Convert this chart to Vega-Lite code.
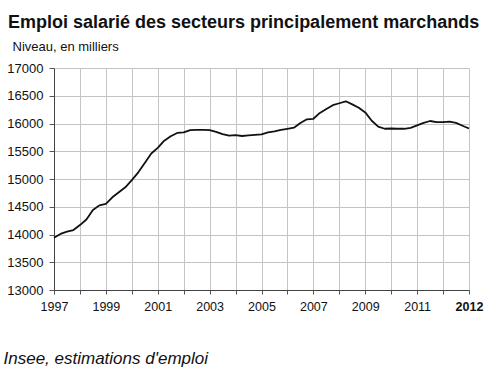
{
  "$schema": "https://vega.github.io/schema/vega-lite/v6.json",
  "autosize": "none",
  "width": 415,
  "height": 222,
  "padding": {"left": 54, "top": 68, "right": 31, "bottom": 88},
  "background": "white",
  "config": {
    "font": "Liberation Sans",
    "view": {"stroke": null}
  },
  "title": {
    "text": "Emploi salarié des secteurs principalement marchands",
    "anchor": "start",
    "frame": "group",
    "dx": -46,
    "offset": 8,
    "fontSize": 18,
    "fontWeight": "bold",
    "font": "Liberation Sans",
    "color": "#111"
  },
  "data": {
    "values": [
      {"annee": 1997.00, "emploi": 13940},
      {"annee": 1997.25, "emploi": 14010},
      {"annee": 1997.50, "emploi": 14050},
      {"annee": 1997.75, "emploi": 14080},
      {"annee": 1998.00, "emploi": 14170},
      {"annee": 1998.25, "emploi": 14270},
      {"annee": 1998.50, "emploi": 14440},
      {"annee": 1998.75, "emploi": 14525},
      {"annee": 1999.00, "emploi": 14550},
      {"annee": 1999.25, "emploi": 14670},
      {"annee": 1999.50, "emploi": 14760},
      {"annee": 1999.75, "emploi": 14850},
      {"annee": 2000.00, "emploi": 14980},
      {"annee": 2000.25, "emploi": 15120},
      {"annee": 2000.50, "emploi": 15290},
      {"annee": 2000.75, "emploi": 15460},
      {"annee": 2001.00, "emploi": 15560},
      {"annee": 2001.25, "emploi": 15690},
      {"annee": 2001.50, "emploi": 15770},
      {"annee": 2001.75, "emploi": 15830},
      {"annee": 2002.00, "emploi": 15840},
      {"annee": 2002.25, "emploi": 15880},
      {"annee": 2002.50, "emploi": 15885},
      {"annee": 2002.75, "emploi": 15885},
      {"annee": 2003.00, "emploi": 15880},
      {"annee": 2003.25, "emploi": 15850},
      {"annee": 2003.50, "emploi": 15810},
      {"annee": 2003.75, "emploi": 15780},
      {"annee": 2004.00, "emploi": 15790},
      {"annee": 2004.25, "emploi": 15775},
      {"annee": 2004.50, "emploi": 15785},
      {"annee": 2004.75, "emploi": 15795},
      {"annee": 2005.00, "emploi": 15805},
      {"annee": 2005.25, "emploi": 15840},
      {"annee": 2005.50, "emploi": 15860},
      {"annee": 2005.75, "emploi": 15885},
      {"annee": 2006.00, "emploi": 15905},
      {"annee": 2006.25, "emploi": 15925},
      {"annee": 2006.50, "emploi": 16010},
      {"annee": 2006.75, "emploi": 16075},
      {"annee": 2007.00, "emploi": 16085},
      {"annee": 2007.25, "emploi": 16190},
      {"annee": 2007.50, "emploi": 16260},
      {"annee": 2007.75, "emploi": 16330},
      {"annee": 2008.00, "emploi": 16365},
      {"annee": 2008.25, "emploi": 16400},
      {"annee": 2008.50, "emploi": 16345},
      {"annee": 2008.75, "emploi": 16285},
      {"annee": 2009.00, "emploi": 16200},
      {"annee": 2009.25, "emploi": 16050},
      {"annee": 2009.50, "emploi": 15945},
      {"annee": 2009.75, "emploi": 15905},
      {"annee": 2010.00, "emploi": 15910},
      {"annee": 2010.25, "emploi": 15905},
      {"annee": 2010.50, "emploi": 15905},
      {"annee": 2010.75, "emploi": 15920},
      {"annee": 2011.00, "emploi": 15965},
      {"annee": 2011.25, "emploi": 16010},
      {"annee": 2011.50, "emploi": 16045},
      {"annee": 2011.75, "emploi": 16025},
      {"annee": 2012.00, "emploi": 16025},
      {"annee": 2012.25, "emploi": 16035},
      {"annee": 2012.50, "emploi": 16010},
      {"annee": 2012.75, "emploi": 15960},
      {"annee": 2013.00, "emploi": 15910}
    ]
  },
  "mark": {"type": "line", "color": "#111", "strokeWidth": 1.8, "strokeJoin": "round"},
  "encoding": {
    "x": {
      "field": "annee",
      "type": "quantitative",
      "scale": {"domain": [1997, 2013], "nice": false, "zero": false},
      "axis": {
        "values": [1997, 1998, 1999, 2000, 2001, 2002, 2003, 2004, 2005, 2006, 2007, 2008, 2009, 2010, 2011, 2012, 2013],
        "format": "d",
        "labelExpr": "datum.value == 2013 ? '2012' : (datum.value % 2 == 1 ? datum.label : '')",
        "labelFontWeight": {"condition": {"test": "datum.value == 2013", "value": "bold"}, "value": "normal"},
        "labelFontSize": 12.5,
        "labelColor": "#111",
        "labelFont": "Liberation Sans",
        "labelPadding": 6,
        "labelOverlap": false,
        "labelFlush": false,
        "tickSize": 4,
        "tickColor": "#555",
        "domainColor": "#444",
        "gridColor": "#c4c4c4",
        "gridWidth": 1,
        "title": "Insee, estimations d'emploi",
        "titleFont": "Liberation Sans",
        "titleFontStyle": "italic",
        "titleFontWeight": "normal",
        "titleFontSize": 17,
        "titleColor": "#111",
        "titleX": -51,
        "titleY": 73,
        "titleAlign": "left",
        "titleAnchor": "start",
        "titleBaseline": "alphabetic"
      }
    },
    "y": {
      "field": "emploi",
      "type": "quantitative",
      "scale": {"domain": [13000, 17000], "nice": false, "zero": false},
      "axis": {
        "values": [13000, 13500, 14000, 14500, 15000, 15500, 16000, 16500, 17000],
        "format": "d",
        "labelFontSize": 13,
        "labelColor": "#111",
        "labelFont": "Liberation Sans",
        "labelPadding": 6,
        "labelFlush": false,
        "tickSize": 5,
        "tickColor": "#555",
        "domainColor": "#444",
        "gridColor": "#c4c4c4",
        "gridWidth": 1,
        "title": "Niveau, en milliers",
        "titleFont": "Liberation Sans",
        "titleFontWeight": "normal",
        "titleFontSize": 13,
        "titleColor": "#111",
        "titleAngle": 0,
        "titleX": -42,
        "titleY": -18,
        "titleAlign": "left",
        "titleAnchor": "start",
        "titleBaseline": "alphabetic"
      }
    }
  }
}
